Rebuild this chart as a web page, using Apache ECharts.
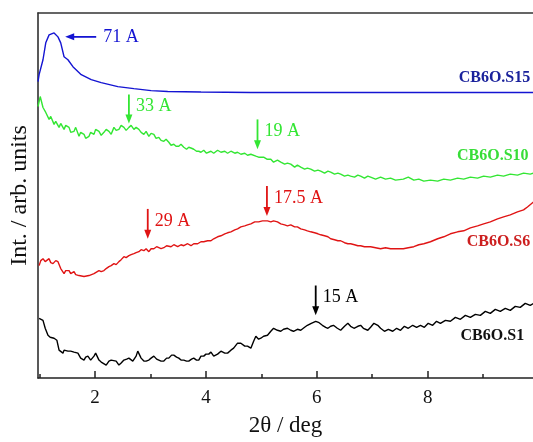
<!DOCTYPE html>
<html>
<head>
<meta charset="utf-8">
<script src="https://cdn.jsdelivr.net/npm/echarts@6/dist/echarts.min.js"></script>
<style>
  html, body { margin: 0; padding: 0; background: #fff; }
  #chart { width: 533px; height: 442px; }
</style>
</head>
<body>
<div id="chart"></div>
<script>
// 2θ (deg), intensity (arb.)
const s15 = [[0.97,298],[0.99,305],[1.06,320],[1.11,337],[1.17,345],[1.20,347],[1.26,347],[1.33,343],[1.38,337],[1.44,323],[1.51,320],[1.60,313],[1.75,305],[1.93,300],[2.11,297],[2.41,293],[2.70,291],[3.01,289],[3.31,288],[3.91,287.5],[4.81,287],[5.71,287],[6.61,287],[7.51,287],[8.41,287],[9.91,287]]

const s10 = [[0.97,273],[1.01,283],[1.06,272],[1.11,267],[1.17,260],[1.20,263],[1.26,255],[1.29,258],[1.35,252],[1.38,256],[1.44,250],[1.47,254],[1.53,252],[1.56,247],[1.62,248],[1.65,252],[1.71,243],[1.74,247],[1.80,245],[1.83,241],[1.89,243],[1.92,247],[1.98,245],[2.01,250],[2.07,248],[2.11,244],[2.16,247],[2.20,250],[2.25,248],[2.29,245],[2.34,252],[2.38,249],[2.43,250],[2.47,254],[2.52,252],[2.56,249],[2.61,252],[2.65,254],[2.70,250],[2.74,252],[2.79,250],[2.83,247],[2.88,245],[2.92,248],[2.97,243],[3.01,246],[3.06,245],[3.10,241],[3.15,242],[3.19,239],[3.24,238],[3.28,240],[3.33,237],[3.37,234],[3.42,235],[3.46,233],[3.51,233],[3.55,235],[3.60,232],[3.65,230],[3.69,232],[3.74,231],[3.78,230],[3.83,228],[3.87,228],[3.91,227],[3.96,229],[4.01,226],[4.09,228],[4.14,226],[4.21,229],[4.27,227],[4.34,228],[4.39,226],[4.45,228],[4.52,226],[4.57,227],[4.63,225],[4.70,226],[4.75,224],[4.81,225],[4.90,223],[4.95,222],[5.04,222],[5.10,220],[5.17,220],[5.22,217],[5.29,219],[5.35,217],[5.42,215],[5.47,216],[5.53,215],[5.60,212],[5.65,214],[5.71,212],[5.78,210],[5.83,211],[5.89,210],[5.96,208],[6.02,209],[6.07,208],[6.14,206],[6.20,208],[6.25,207],[6.32,205],[6.38,206],[6.43,205],[6.50,203],[6.56,204],[6.61,203],[6.68,202],[6.74,204],[6.79,203],[6.86,201],[6.92,203],[6.97,202],[7.06,200],[7.15,202],[7.24,200],[7.33,201],[7.42,199],[7.56,200],[7.65,202],[7.75,199],[7.84,200],[7.93,198],[8.05,199],[8.18,198],[8.29,200],[8.41,199],[8.54,201],[8.65,200],[8.77,202],[8.90,201],[9.01,203],[9.13,202],[9.26,204],[9.37,203],[9.49,205],[9.62,204],[9.73,206],[9.85,205],[9.91,206]]

const s6 = [[0.99,113],[1.02,118],[1.06,120],[1.10,117],[1.11,118],[1.17,120],[1.20,116],[1.24,115],[1.29,118],[1.33,117],[1.38,110],[1.44,105],[1.47,108],[1.53,108],[1.56,105],[1.62,107],[1.65,104],[1.71,103],[1.74,104],[1.80,102],[1.83,104],[1.89,103],[1.92,105],[1.98,105],[2.01,107],[2.07,108],[2.11,107],[2.16,108],[2.20,110],[2.25,112],[2.29,113],[2.34,115],[2.38,114],[2.43,117],[2.47,119],[2.52,122],[2.56,121],[2.61,123],[2.65,124],[2.70,125],[2.74,126],[2.79,127],[2.83,129],[2.88,128],[2.92,130],[2.97,127],[3.01,130],[3.06,130],[3.11,132],[3.15,131],[3.19,130],[3.24,131],[3.29,133],[3.37,132],[3.42,134],[3.49,132],[3.55,134],[3.60,133],[3.67,135],[3.73,133],[3.78,135],[3.85,135],[3.91,137],[3.96,137],[4.03,138],[4.09,138],[4.14,140],[4.21,142],[4.27,143],[4.34,145],[4.39,146],[4.45,147],[4.52,149],[4.57,150],[4.63,152],[4.70,153],[4.75,154],[4.81,155],[4.88,157],[4.95,157],[5.02,158],[5.11,158],[5.17,157],[5.22,158],[5.29,157],[5.35,155],[5.42,154],[5.47,153],[5.53,154],[5.60,152],[5.65,152],[5.71,150],[5.78,149],[5.83,148],[5.89,147],[5.96,146],[6.02,145],[6.07,144],[6.14,143],[6.20,142],[6.25,140],[6.32,139],[6.38,138],[6.43,138],[6.50,136],[6.56,135],[6.61,135],[6.68,134],[6.74,133],[6.79,133],[6.86,132],[6.92,132],[6.97,132],[7.06,131],[7.15,130],[7.24,131],[7.33,130],[7.42,130],[7.56,130],[7.65,131],[7.75,132],[7.84,134],[7.93,135],[8.05,137],[8.18,140],[8.29,142],[8.41,145],[8.54,147],[8.65,148],[8.77,151],[8.90,153],[9.01,155],[9.13,157],[9.26,160],[9.37,162],[9.49,164],[9.62,167],[9.73,169],[9.80,172],[9.91,177]]

const s1 = [[0.99,60],[1.02,60],[1.06,58],[1.10,50],[1.15,43],[1.19,41],[1.20,40],[1.26,40],[1.31,38],[1.35,28],[1.38,26],[1.42,25],[1.44,28],[1.47,26],[1.51,27],[1.56,27],[1.62,26],[1.65,27],[1.69,25],[1.74,20],[1.80,18],[1.83,21],[1.87,22],[1.92,18],[1.98,22],[2.01,25],[2.07,18],[2.11,16],[2.14,15],[2.20,13],[2.25,17],[2.29,18],[2.32,18],[2.38,17],[2.43,13],[2.47,15],[2.52,18],[2.57,19],[2.61,20],[2.68,17],[2.74,22],[2.77,27],[2.83,20],[2.88,17],[2.92,17],[2.97,18],[3.01,20],[3.06,22],[3.11,19],[3.15,18],[3.19,17],[3.24,17],[3.29,20],[3.33,20],[3.38,23],[3.42,23],[3.47,21],[3.51,20],[3.55,18],[3.60,18],[3.65,17],[3.69,17],[3.74,19],[3.78,20],[3.83,18],[3.87,18],[3.91,22],[3.96,22],[4.00,24],[4.05,24],[4.09,26],[4.14,22],[4.21,24],[4.27,27],[4.34,25],[4.39,25],[4.45,28],[4.50,30],[4.57,35],[4.63,35],[4.70,32],[4.75,32],[4.81,30],[4.86,37],[4.90,42],[4.95,39],[4.99,40],[5.04,42],[5.11,43],[5.17,47],[5.22,50],[5.29,48],[5.35,47],[5.40,49],[5.47,50],[5.53,48],[5.58,47],[5.65,49],[5.71,48],[5.78,51],[5.83,53],[5.90,55],[5.98,57],[6.03,56],[6.10,53],[6.16,51],[6.20,50],[6.25,52],[6.30,53],[6.37,50],[6.43,48],[6.50,52],[6.56,55],[6.61,52],[6.67,50],[6.74,52],[6.79,53],[6.84,50],[6.92,48],[6.97,51],[7.03,55],[7.10,53],[7.15,50],[7.22,47],[7.29,49],[7.37,47],[7.44,50],[7.51,48],[7.58,52],[7.65,50],[7.73,53],[7.80,51],[7.87,53],[7.94,51],[8.01,55],[8.09,53],[8.16,57],[8.23,55],[8.32,58],[8.41,57],[8.50,61],[8.59,59],[8.68,63],[8.77,61],[8.86,64],[8.95,63],[9.04,67],[9.13,65],[9.22,69],[9.31,67],[9.40,70],[9.49,68],[9.58,72],[9.67,71],[9.76,75],[9.85,73],[9.91,75]]

const xTicks = [2, 4, 6, 8]
const xMinorTicks = [1, 3, 5, 7, 9]

// peak marks: [2θ, arrow top, arrow tip, text]
const peaks = [
  {name: 's10', x: 2.61, y1: 285, y2: 256, text: '33 A'},
  {name: 's10', x: 4.93, y1: 260, y2: 230, text: '19 A'},
  {name: 's6', x: 2.95, y1: 170, y2: 140, text: '29 A'},
  {name: 's6', x: 5.10, y1: 193, y2: 163, text: '17.5 A'},
  {name: 's1', x: 5.98, y1: 93, y2: 63, text: '15 A'}
]
// 71 A arrow points left: [from 2θ, to 2θ, intensity]
const peak71 = {x1: 2.02, x2: 1.46, y: 343, text: '71 A'}

const sampleNames = {s15: 'CB6O.S15', s10: 'CB6O.S10', s6: 'CB6O.S6', s1: 'CB6O.S1'}
// label anchor (right end) in data units
const labelPos = {s15: [9.85, 302], s10: [9.82, 223], s6: [9.85, 137], s1: [9.74, 42]}

const lineColor = {s15: '#1414d2', s10: '#33e633', s6: '#e01414', s1: '#000'}
const textColor = {s15: '#1a229c', s10: '#38dd38', s6: '#cc1f1f', s1: '#111'}

const serif = '"Liberation Serif", "DejaVu Serif", serif'
const chart = echarts.init(document.getElementById('chart'))

const mkSeries = (key, data) => ({
  name: key,
  type: 'line',
  data: data,
  showSymbol: false,
  symbol: 'none',
  lineStyle: {color: lineColor[key], width: 1.4},
  z: 3
})

chart.setOption({
  animation: false,
  grid: {left: 37, right: 0, top: 13, bottom: 62},
  xAxis: [
    {
      type: 'value', min: 0.97, max: 9.9,
      name: '2θ / deg', nameLocation: 'middle', nameGap: 36,
      nameTextStyle: {fontFamily: serif, fontSize: 23, color: '#111'},
      axisLine: {lineStyle: {color: '#222', width: 1.5}},
      axisTick: {inside: true, length: 7, customValues: xTicks, lineStyle: {color: '#222', width: 1.5}},
      axisLabel: {customValues: xTicks, margin: 11, fontFamily: serif, fontSize: 19, color: '#111'},
      splitLine: {show: false}
    },
    {
      //次刻度
      type: 'value', min: 0.97, max: 9.9, position: 'bottom',
      axisLine: {show: false},
      axisTick: {inside: true, length: 4, customValues: xMinorTicks, lineStyle: {color: '#222', width: 1.5}},
      axisLabel: {show: false},
      splitLine: {show: false}
    },
    {
      //上边框
      type: 'value', min: 0.97, max: 9.9, position: 'top',
      axisLine: {lineStyle: {color: '#333', width: 1.5}},
      axisTick: {show: false},
      axisLabel: {show: false},
      splitLine: {show: false}
    }
  ],
  yAxis: {
    type: 'value', min: 0, max: 367,
    name: 'Int. / arb. units', nameLocation: 'middle', nameGap: 6,
    nameTextStyle: {fontFamily: serif, fontSize: 24, color: '#111'},
    axisLine: {show: true, lineStyle: {color: '#222', width: 1.5}},
    axisTick: {show: false},
    axisLabel: {show: false},
    splitLine: {show: false}
  },
  series: [mkSeries('s15', s15), mkSeries('s10', s10), mkSeries('s6', s6), mkSeries('s1', s1)]
})

//标注：箭头和文字
const toPx = (p) => chart.convertToPixel({xAxisIndex: 0, yAxisIndex: 0}, p)
const graphics = []
const fontAnn = '18px ' + serif

peaks.forEach((p) => {
  const top = toPx([p.x, p.y1])
  const tip = toPx([p.x, p.y2])
  const c = lineColor[p.name]
  graphics.push({type: 'line', shape: {x1: top[0], y1: top[1], x2: tip[0], y2: tip[1] - 8}, style: {stroke: c, lineWidth: 1.8}})
  graphics.push({type: 'polygon', shape: {points: [[tip[0] - 3.5, tip[1] - 9], [tip[0] + 3.5, tip[1] - 9], [tip[0], tip[1]]]}, style: {fill: c}})
  graphics.push({type: 'text', x: top[0] + 7, y: (top[1] + tip[1]) / 2 - 3, style: {text: p.text, font: fontAnn, fill: c, textVerticalAlign: 'middle'}})
})

const a = toPx([peak71.x1, peak71.y])
const b = toPx([peak71.x2, peak71.y])
graphics.push({type: 'line', shape: {x1: a[0], y1: a[1], x2: b[0] + 8, y2: b[1]}, style: {stroke: lineColor.s15, lineWidth: 1.8}})
graphics.push({type: 'polygon', shape: {points: [[b[0] + 9, b[1] - 3.5], [b[0] + 9, b[1] + 3.5], [b[0], b[1]]]}, style: {fill: lineColor.s15}})
graphics.push({type: 'text', x: a[0] + 7, y: a[1], style: {text: peak71.text, font: fontAnn, fill: lineColor.s15, textVerticalAlign: 'middle'}})

Object.keys(sampleNames).forEach((k) => {
  const p = toPx(labelPos[k])
  graphics.push({type: 'text', x: p[0], y: p[1], style: {text: sampleNames[k], font: 'bold 16px ' + serif, fill: textColor[k], textAlign: 'right', textVerticalAlign: 'middle'}})
})

chart.setOption({graphic: graphics})
</script>
</body>
</html>
